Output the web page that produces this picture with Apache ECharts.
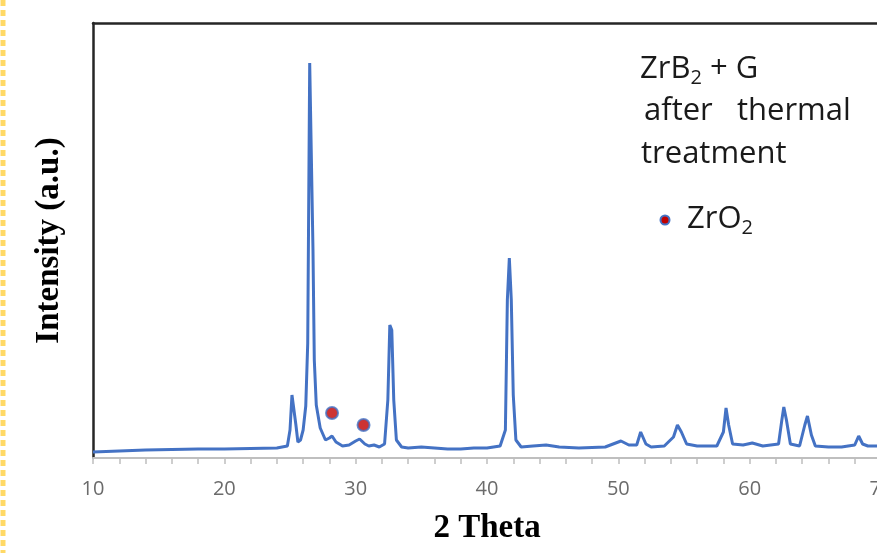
<!DOCTYPE html>
<html>
<head>
    <meta charset="utf-8">
    <title>XRD ZrB2 + G</title>
    <script src="https://cdn.jsdelivr.net/npm/echarts@6/dist/echarts.min.js"></script>
    <style>
        html, body { margin: 0; padding: 0; background: #fff; }
        #charts { width: 877px; height: 553px; }
    </style>
</head>
<body>
<div id="charts"></div>
<script type="text/javascript">
// 2 theta positions (deg) and intensity (a.u.)
var twoTheta = [10, 12, 14, 16, 18, 20, 22, 24, 24.8, 25.0, 25.15, 25.3, 25.45, 25.6, 25.8, 26.0, 26.2, 26.35,
    26.5, 26.6, 26.75, 26.85, 27.0, 27.3, 27.7, 28.0, 28.2, 28.5, 29.0, 29.5, 30.0, 30.3, 30.7, 31.0, 31.4, 31.8,
    32.2, 32.45, 32.6, 32.75, 32.9, 33.1, 33.5, 34, 35, 36, 37, 38, 39, 40, 41.0, 41.4, 41.55, 41.7, 41.85, 42.0,
    42.2, 42.6, 43.5, 44.5, 45.5, 47, 49, 50.2, 50.8, 51.4, 51.7, 51.85, 52.1, 52.5, 53.5, 54.2, 54.5, 54.8, 55.2,
    56, 57.5, 58.0, 58.2, 58.4, 58.7, 59.5, 60.2, 61, 62.2, 62.45, 62.6, 62.8, 63.1, 63.8, 64.2, 64.4, 64.7, 65,
    66, 67, 68.0, 68.3, 68.6, 69, 70];
var intensity = [6, 7, 8, 8.5, 9, 9, 9.5, 10, 12, 28, 63, 61, 33, 16, 18, 28, 52, 115,
    395, 396, 208, 98, 53, 30, 18, 20, 22, 16, 12, 13, 17, 19, 14, 12, 13, 11,
    14, 58, 133, 128, 58, 18, 11, 10, 11, 10, 9, 9, 10, 10, 12, 28, 158, 200, 158, 63,
    18, 11, 12, 13, 11, 10, 11, 17, 13, 13, 26, 28, 14, 11, 12, 21, 33, 26, 14,
    12, 12, 26, 50, 33, 14, 13, 15, 12, 14, 38, 51, 38, 14, 12, 33, 42, 23, 12,
    11, 11, 13, 22, 14, 12, 12];

// ZrO2 reflections marked with dots
var zro2Theta = [28.2, 30.6];
var zro2Mark = [45, 33];

var xTicks = [10, 20, 30, 40, 50, 60, 70];

var lineData = [];
for (var i = 0; i < twoTheta.length; i++) {
    lineData.push([twoTheta[i], intensity[i]]);
}
var markData = [];
for (var j = 0; j < zro2Theta.length; j++) {
    markData.push([zro2Theta[j], zro2Mark[j]]);
}

var myChart = echarts.init(document.getElementById('charts'));

var sansFont = "'Open Sans', 'Noto Sans', sans-serif";
var serifFont = "'Liberation Serif', 'DejaVu Serif', serif";

var option = {
    backgroundColor: '#fff',
    animation: false,
    grid: {
        left: 93,
        top: 23,
        width: 788,
        height: 435,
        outerBoundsMode: 'none'
    },
    xAxis: [{
        type: 'value',
        min: xTicks[0],
        max: xTicks[xTicks.length - 1],
        interval: 10,
        name: '2 Theta',
        nameLocation: 'middle',
        nameGap: 54,
        nameTextStyle: {
            fontFamily: serifFont,
            fontWeight: 'bold',
            fontSize: 33,
            color: '#000'
        },
        axisLine: { lineStyle: { color: '#BFBFBF', width: 2 } },
        axisTick: { show: true, length: 6, lineStyle: { color: '#BFBFBF', width: 1.5 } },
        minorTick: { show: true, splitNumber: 5, length: 6, lineStyle: { color: '#BFBFBF', width: 1.5 } },
        splitLine: { show: false },
        axisLabel: {
            color: '#6b6b6b',
            fontFamily: sansFont,
            fontSize: 20,
            margin: 21
        }
    }, {
        // top border of the plot box
        type: 'value',
        position: 'top',
        min: xTicks[0],
        max: xTicks[xTicks.length - 1],
        axisLine: { lineStyle: { color: '#262626', width: 2.5 } },
        axisTick: { show: false },
        axisLabel: { show: false },
        splitLine: { show: false }
    }],
    yAxis: {
        type: 'value',
        min: 0,
        max: 435,
        name: 'Intensity (a.u.)',
        nameLocation: 'middle',
        nameGap: 27,
        nameTextStyle: {
            fontFamily: serifFont,
            fontWeight: 'bold',
            fontSize: 33,
            color: '#000'
        },
        axisLine: { show: true, onZero: false, lineStyle: { color: '#262626', width: 2.5 } },
        axisTick: { show: false },
        axisLabel: { show: false },
        splitLine: { show: false }
    },
    series: [{
        name: 'ZrB2 + G',
        type: 'line',
        data: lineData,
        symbol: 'none',
        lineStyle: { color: '#4472C4', width: 3 },
        z: 2
    }, {
        name: 'ZrO2',
        type: 'scatter',
        data: markData,
        symbol: 'circle',
        symbolSize: 12,
        itemStyle: { color: '#C00000', borderColor: '#4472C4', borderWidth: 2 },
        z: 3
    }],
    graphic: [{
        // dashed yellow edge on the left
        type: 'line',
        shape: { x1: 3, y1: 0, x2: 3, y2: 553 },
        style: { stroke: '#FFD966', lineWidth: 5, lineDash: [6, 4] }
    }, {
        type: 'text',
        left: 640,
        top: 54,
        style: {
            text: '{n|ZrB}{s|2}{n| + G}',
            rich: {
                n: { fontFamily: sansFont, fontSize: 31, fill: '#1a1a1a' },
                s: { fontFamily: sansFont, fontSize: 20, fill: '#1a1a1a', padding: [18, 0, 0, 0] }
            }
        }
    }, {
        type: 'text',
        left: 644,
        top: 96,
        style: { text: 'after   thermal', fontFamily: sansFont, fontSize: 31, fill: '#1a1a1a' }
    }, {
        type: 'text',
        left: 641,
        top: 139,
        style: { text: 'treatment', fontFamily: sansFont, fontSize: 31, fill: '#1a1a1a' }
    }, {
        type: 'circle',
        shape: { cx: 665, cy: 220, r: 4.5 },
        style: { fill: '#C00000', stroke: '#4472C4', lineWidth: 2 }
    }, {
        type: 'text',
        left: 687,
        top: 204,
        style: {
            text: '{n|ZrO}{s|2}',
            rich: {
                n: { fontFamily: sansFont, fontSize: 31, fill: '#1a1a1a' },
                s: { fontFamily: sansFont, fontSize: 20, fill: '#1a1a1a', padding: [18, 0, 0, 0] }
            }
        }
    }]
};

myChart.setOption(option);
</script>
</body>
</html>
